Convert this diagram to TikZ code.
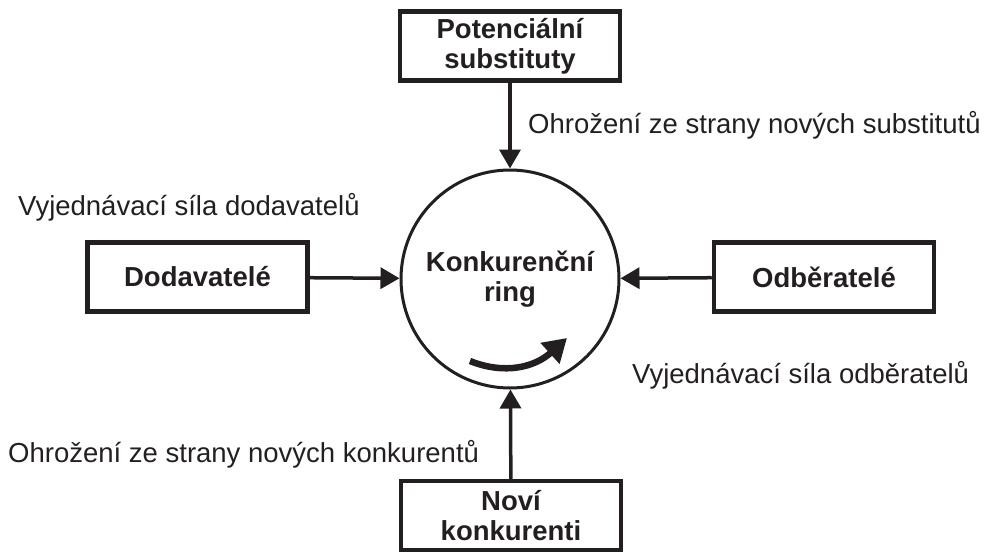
\documentclass[tikz,border=0pt]{standalone}
\usepackage{fontspec}
\setmainfont{Liberation Sans}
\usepackage{tikz}
\usetikzlibrary{positioning,arrows.meta}
\definecolor{ink}{RGB}{35,31,32}

\begin{document}
\begin{tikzpicture}[x=1pt,y=-1pt,
  force/.style={draw=ink,line width=4.5pt,minimum width=220pt,minimum height=69pt,
    align=center,text=ink,font=\fontsize{27.5}{30}\selectfont\bfseries},
  note/.style={anchor=base west,inner sep=0pt,text=ink,font=\fontsize{27.5}{31}\selectfont},
  push/.style={draw=ink,line width=3.5pt,-{Triangle[length=19pt,width=21pt]}}]
\useasboundingbox (0,0) rectangle (997,555);
% the ring and the four forces round it
\node[circle,draw=ink,line width=3pt,minimum size=218pt,align=center,text=ink,
  font=\fontsize{27.5}{30}\selectfont\bfseries] (ring) at (510,279) {Konkurenční\\ring};
\node[force] (subst) at (510,46) {Potenciální\\substituty};
\node[force] (supp) at (197.5,277) {Dodavatelé};
\node[force] (cust) at (824,277) {Odběratelé};
\node[force] (entr) at (511,515.5) {Noví\\konkurenti};
\foreach \f in {subst,supp,cust,entr}{
\draw[push] (\f) -- (ring);
}
% rotation inside the ring
\draw[ink,line width=6.5pt,-{Triangle[length=23pt,width=27pt]}]
  ([shift={(-40,82)}]ring.center) .. controls ([shift={(-5,96)}]ring.center)
  and ([shift={(25,88)}]ring.center) .. ([shift={(57,59)}]ring.center);
% labels of the arrows
\node[note] (lsubst) at (528,133) {Ohrožení ze strany nových substitutů};
\node[note] (lsupp) at (18,215) {Vyjednávací síla dodavatelů};
\node[note] (lcust) at (632,383) {Vyjednávací síla odběratelů};
\node[note] (lentr) at (8,462) {Ohrožení ze strany nových konkurentů};
\end{tikzpicture}
\end{document}
